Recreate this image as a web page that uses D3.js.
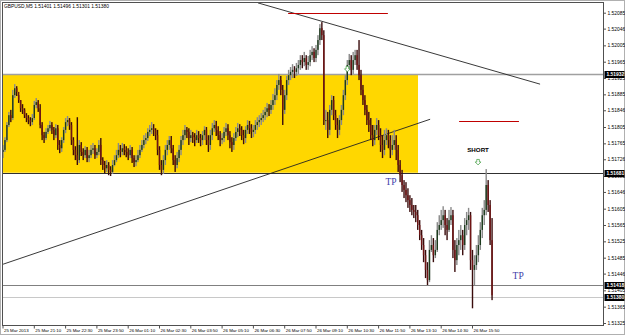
<!DOCTYPE html>
<html><head><meta charset="utf-8">
<script src="https://cdn.jsdelivr.net/npm/d3@7"></script>
<style>body{margin:0;background:#fff}svg{display:block}</style>
</head><body><svg id="c" width="625" height="335"></svg>
<script>
const title = "GBPUSD,M5  1.51401 1.51496 1.51301 1.51380";
const timeLabels = ["25 Mar 2013","25 Mar 21:10","25 Mar 22:30","25 Mar 23:50","26 Mar 01:10","26 Mar 02:30","26 Mar 03:50","26 Mar 05:10","26 Mar 06:30","26 Mar 07:50","26 Mar 09:10","26 Mar 10:30","26 Mar 11:50","26 Mar 13:10","26 Mar 14:30","26 Mar 15:50"];
const timeLabelBars = [0,16,32,48,64,80,96,112,128,144,160,176,192,208,224,240];
const priceTicks = [1.52085,1.52046,1.52005,1.51965,1.51925,1.51885,1.51846,1.51805,1.51765,1.51726,1.51685,1.51646,1.51605,1.51565,1.51525,1.51485,1.51446,1.51405,1.51365,1.51325];
const close = [1.51749,1.51773,1.51810,1.51834,1.51827,1.51883,1.51900,1.51891,1.51871,1.51851,
1.51847,1.51834,1.51827,1.51822,1.51817,1.51827,1.51859,1.51866,1.51851,1.51810,
1.51785,1.51778,1.51793,1.51802,1.51810,1.51798,1.51785,1.51802,1.51761,1.51753,
1.51773,1.51798,1.51817,1.51822,1.51810,1.51773,1.51749,1.51736,1.51724,1.51761,
1.51744,1.51736,1.51749,1.51729,1.51736,1.51749,1.51753,1.51736,1.51744,1.51761,
1.51724,1.51712,1.51704,1.51712,1.51700,1.51695,1.51712,1.51724,1.51736,1.51749,
1.51744,1.51753,1.51749,1.51744,1.51736,1.51749,1.51729,1.51719,1.51724,1.51736,
1.51749,1.51761,1.51773,1.51778,1.51793,1.51798,1.51802,1.51798,1.51785,1.51749,
1.51712,1.51700,1.51724,1.51749,1.51761,1.51773,1.51753,1.51724,1.51712,1.51729,
1.51749,1.51773,1.51785,1.51798,1.51793,1.51778,1.51785,1.51780,1.51773,1.51785,
1.51778,1.51773,1.51785,1.51798,1.51773,1.51761,1.51785,1.51802,1.51810,1.51798,
1.51785,1.51773,1.51778,1.51793,1.51802,1.51785,1.51768,1.51761,1.51778,1.51793,
1.51802,1.51798,1.51785,1.51778,1.51798,1.51810,1.51802,1.51793,1.51798,1.51810,
1.51817,1.51822,1.51827,1.51834,1.51842,1.51851,1.51847,1.51859,1.51871,1.51883,
1.51908,1.51920,1.51896,1.51847,1.51883,1.51920,1.51932,1.51940,1.51945,1.51940,
1.51949,1.51957,1.51969,1.51964,1.51974,1.51957,1.51964,1.51981,1.51989,1.51974,
1.51994,1.52018,1.52047,1.52030,1.51822,1.51822,1.51798,1.51847,1.51871,1.51834,
1.51810,1.51798,1.51822,1.51847,1.51883,1.51920,1.51957,1.51969,1.51945,1.51969,
1.51981,1.51957,1.51932,1.51896,1.51871,1.51847,1.51822,1.51810,1.51785,1.51773,
1.51798,1.51810,1.51785,1.51761,1.51749,1.51773,1.51785,1.51773,1.51749,1.51761,
1.51773,1.51749,1.51712,1.51687,1.51663,1.51651,1.51638,1.51626,1.51614,1.51602,
1.51597,1.51589,1.51565,1.51540,1.51516,1.51491,1.51455,1.51430,1.51504,1.51516,
1.51491,1.51504,1.51553,1.51565,1.51577,1.51589,1.51565,1.51553,1.51577,1.51589,
1.51504,1.51479,1.51516,1.51528,1.51540,1.51516,1.51565,1.51577,1.51589,1.51479,
1.51455,1.51467,1.51491,1.51516,1.51553,1.51589,1.51602,1.51663,1.51614,1.51528,1.51393];
const high = [1.51761,1.51780,1.51817,1.51842,1.51847,1.51896,1.51910,1.51905,1.51883,1.51871,
1.51861,1.51851,1.51839,1.51834,1.51829,1.51837,1.51869,1.51876,1.51871,1.51861,
1.51817,1.51793,1.51802,1.51810,1.51820,1.51817,1.51805,1.51812,1.51810,1.51773,
1.51780,1.51805,1.51827,1.51832,1.51827,1.51817,1.51780,1.51758,1.51829,1.51773,
1.51768,1.51753,1.51758,1.51756,1.51749,1.51761,1.51766,1.51761,1.51753,1.51773,
1.51778,1.51731,1.51722,1.51724,1.51719,1.51709,1.51724,1.51736,1.51749,1.51766,
1.51761,1.51766,1.51763,1.51758,1.51753,1.51761,1.51756,1.51736,1.51736,1.51749,
1.51761,1.51773,1.51785,1.51790,1.51802,1.51810,1.51817,1.51812,1.51802,1.51798,
1.51758,1.51724,1.51736,1.51761,1.51773,1.51783,1.51783,1.51761,1.51736,1.51744,
1.51761,1.51783,1.51798,1.51810,1.51805,1.51802,1.51798,1.51793,1.51790,1.51798,
1.51795,1.51788,1.51795,1.51807,1.51805,1.51785,1.51798,1.51815,1.51822,1.51820,
1.51807,1.51795,1.51790,1.51805,1.51815,1.51812,1.51795,1.51780,1.51790,1.51805,
1.51815,1.51812,1.51807,1.51798,1.51807,1.51822,1.51820,1.51812,1.51810,1.51822,
1.51829,1.51834,1.51839,1.51847,1.51854,1.51864,1.51861,1.51871,1.51886,1.51900,
1.51920,1.51935,1.51930,1.51908,1.51896,1.51930,1.51945,1.51952,1.51959,1.51954,
1.51962,1.51969,1.51981,1.51981,1.51989,1.51981,1.51979,1.51994,1.52003,1.51998,
1.52006,1.52030,1.52057,1.52062,1.52042,1.51847,1.51842,1.51859,1.51883,1.51881,
1.51847,1.51827,1.51834,1.51859,1.51896,1.51932,1.51969,1.51984,1.51981,1.51989,
1.51994,1.51994,1.52018,1.51945,1.51908,1.51883,1.51859,1.51842,1.51827,1.51810,
1.51810,1.51827,1.51822,1.51802,1.51785,1.51798,1.51802,1.51798,1.51785,1.51785,
1.51798,1.51785,1.51761,1.51724,1.51700,1.51675,1.51670,1.51655,1.51638,1.51631,
1.51614,1.51614,1.51602,1.51577,1.51553,1.51533,1.51504,1.51474,1.51528,1.51540,
1.51533,1.51528,1.51572,1.51589,1.51602,1.51611,1.51602,1.51582,1.51602,1.51609,
1.51602,1.51528,1.51533,1.51553,1.51565,1.51553,1.51582,1.51597,1.51607,1.51597,
1.51504,1.51491,1.51516,1.51540,1.51572,1.51607,1.51626,1.51702,1.51675,1.51626,1.51582];
const low = [1.51729,1.51744,1.51768,1.51805,1.51817,1.51822,1.51876,1.51881,1.51864,1.51842,
1.51837,1.51827,1.51817,1.51812,1.51807,1.51810,1.51822,1.51851,1.51842,1.51802,
1.51773,1.51766,1.51773,1.51788,1.51795,1.51788,1.51773,1.51778,1.51749,1.51741,
1.51744,1.51766,1.51790,1.51807,1.51798,1.51761,1.51736,1.51724,1.51712,1.51717,
1.51734,1.51724,1.51729,1.51719,1.51719,1.51729,1.51739,1.51727,1.51729,1.51736,
1.51712,1.51700,1.51692,1.51695,1.51687,1.51685,1.51690,1.51709,1.51719,1.51729,
1.51731,1.51736,1.51736,1.51731,1.51724,1.51729,1.51717,1.51707,1.51709,1.51719,
1.51729,1.51744,1.51753,1.51763,1.51771,1.51783,1.51788,1.51783,1.51773,1.51736,
1.51700,1.51687,1.51690,1.51712,1.51736,1.51749,1.51741,1.51712,1.51695,1.51704,
1.51719,1.51736,1.51761,1.51773,1.51778,1.51761,1.51768,1.51766,1.51758,1.51766,
1.51766,1.51758,1.51761,1.51773,1.51761,1.51744,1.51749,1.51773,1.51793,1.51783,
1.51773,1.51758,1.51763,1.51768,1.51783,1.51773,1.51753,1.51744,1.51749,1.51771,
1.51780,1.51783,1.51773,1.51763,1.51766,1.51788,1.51788,1.51778,1.51780,1.51788,
1.51798,1.51805,1.51810,1.51817,1.51822,1.51829,1.51832,1.51837,1.51847,1.51859,
1.51871,1.51896,1.51883,1.51810,1.51837,1.51871,1.51908,1.51920,1.51925,1.51925,
1.51930,1.51935,1.51945,1.51949,1.51954,1.51945,1.51945,1.51954,1.51969,1.51964,
1.51964,1.51981,1.52006,1.52018,1.51810,1.51798,1.51778,1.51785,1.51834,1.51822,
1.51798,1.51778,1.51785,1.51810,1.51834,1.51871,1.51908,1.51945,1.51932,1.51935,
1.51957,1.51945,1.51920,1.51883,1.51859,1.51834,1.51810,1.51793,1.51773,1.51758,
1.51761,1.51785,1.51773,1.51744,1.51729,1.51736,1.51761,1.51753,1.51729,1.51736,
1.51749,1.51724,1.51695,1.51670,1.51646,1.51631,1.51621,1.51607,1.51597,1.51589,
1.51582,1.51572,1.51553,1.51528,1.51504,1.51474,1.51435,1.51418,1.51425,1.51499,
1.51474,1.51484,1.51499,1.51540,1.51553,1.51558,1.51540,1.51528,1.51548,1.51565,
1.51484,1.51450,1.51467,1.51491,1.51504,1.51491,1.51504,1.51540,1.51553,1.51455,
1.51361,1.51418,1.51455,1.51474,1.51504,1.51533,1.51565,1.51589,1.51597,1.51516,1.51381];
const firstOpen = 1.51744;
const open = close.map((c, i) => i === 0 ? firstOpen : close[i - 1]);

const zone = {from: 0, to: 212.4, top: 1.51934, bottom: 1.51693};
const levels = [
  {price: 1.51934, label: "1.51932", color: "#a0a0a0", w: 1.6},
  {price: 1.51693, label: "1.51681", color: "#303030", w: 1},
  {price: 1.51418, label: "1.51418", color: "#808080", w: 1},
  {price: 1.51389, label: "1.51380", color: "#c8c8c8", w: 1}
];
const trendLines = [
  {b0: 130.6, p0: 1.52109, b1: 274.8, p1: 1.51910, color: "#222"},
  {b0: 0.3, p0: 1.51469, b1: 218.6, p1: 1.51824, color: "#222"}
];
const redLines = [
  {b0: 146, b1: 197, p: 1.52084},
  {b0: 233.4, b1: 264, p: 1.51820}
];
const arrows = [{bar: 176.3, p: 1.51945}, {bar: 243.1, p: 1.51717}];
const notes = [
  {bar: 243.1, p: 1.51743, text: "SHORT", kind: "short"},
  {bar: 198.6, p: 1.51662, text: "TP", kind: "tp"},
  {bar: 263.6, p: 1.51433, text: "TP", kind: "tp"}
];

const svg = d3.select("#c");
const P = {l: 2.5, r: 603.5, t: 2.5, b: 325.5};
const x = d3.scaleLinear().domain([0, 240]).range([2.5, 472]);
const y = d3.scaleLinear().domain([1.51325, 1.52085]).range([323, 12.7]);
const font = "'Liberation Sans', Arial, sans-serif";

svg.append("rect").attr("width", 625).attr("height", 335).attr("fill", "#fff");
svg.append("rect").attr("x", 0.5).attr("y", 0.5).attr("width", 624).attr("height", 334)
  .attr("fill", "none").attr("stroke", "#b0b0b0");

svg.append("clipPath").attr("id", "pc").append("rect")
  .attr("x", P.l).attr("y", P.t).attr("width", P.r - P.l).attr("height", P.b - P.t);
const g = svg.append("g").attr("clip-path", "url(#pc)");

g.append("rect").attr("x", x(zone.from) - 2).attr("y", y(zone.top))
  .attr("width", x(zone.to) - x(zone.from) + 2).attr("height", y(zone.bottom) - y(zone.top))
  .attr("fill", "#FFD700");

g.selectAll("line.lvl").data(levels).join("line").attr("class", "lvl")
  .attr("x1", P.l).attr("x2", P.r)
  .attr("y1", d => Math.round(y(d.price)) + 0.5).attr("y2", d => Math.round(y(d.price)) + 0.5)
  .attr("stroke", d => d.color).attr("stroke-width", d => d.w);

g.selectAll("line.tl").data(trendLines).join("line").attr("class", "tl")
  .attr("x1", d => x(d.b0)).attr("y1", d => y(d.p0)).attr("x2", d => x(d.b1)).attr("y2", d => y(d.p1))
  .attr("stroke", d => d.color).attr("stroke-width", 0.9);

g.selectAll("line.rl").data(redLines).join("line").attr("class", "rl")
  .attr("x1", d => x(d.b0)).attr("x2", d => x(d.b1))
  .attr("y1", d => Math.round(y(d.p)) + 0.5).attr("y2", d => Math.round(y(d.p)) + 0.5)
  .attr("stroke", "#c00000").attr("stroke-width", 1.2);

const bars = d3.range(close.length).map(i => ({i, o: open[i], h: high[i], l: low[i], c: close[i]}));
const cg = g.append("g");
const cw = 1.4;
bars.forEach(d => {
  const bx = x(d.i) - cw / 2 + 0.5;
  const up = d.c >= d.o;
  cg.append("rect").attr("x", bx).attr("width", cw)
    .attr("y", y(d.h)).attr("height", Math.max(1, y(d.l) - y(d.h)))
    .attr("fill", up ? "#8a8a8a" : "#3a0c0c");
  cg.append("rect").attr("x", bx).attr("width", cw)
    .attr("y", y(Math.max(d.o, d.c))).attr("height", Math.max(1, Math.abs(y(d.o) - y(d.c))))
    .attr("fill", up ? "#1c3a1c" : "#701414");
});

arrows.forEach(a => {
  const ax = x(a.bar), ay = y(a.p);
  g.append("path")
    .attr("d", `M${ax-1.3},${ay-3.5} h2.6 v2.5 h1.6 l-2.9,3 l-2.9,-3 h1.6 z`)
    .attr("fill", "#fff").attr("stroke", "#3a9a3a").attr("stroke-width", 0.7);
});

notes.forEach(n => {
  const t = g.append("text").attr("x", x(n.bar)).attr("y", y(n.p)).attr("text-anchor", "middle").text(n.text);
  if (n.kind === "short") t.attr("font-family", font).attr("font-size", 6.2).attr("font-weight", "bold").attr("fill", "#000");
  else t.attr("font-family", "'Liberation Serif', 'Times New Roman', serif").attr("font-size", 9.5).attr("fill", "#3c3ca8");
});

svg.append("rect").attr("x", P.l).attr("y", P.t).attr("width", P.r - P.l).attr("height", P.b - P.t)
  .attr("fill", "none").attr("stroke", "#505050");

const ya = svg.append("g").attr("transform", `translate(${P.r},0)`)
  .call(d3.axisRight(y).tickValues(priceTicks).tickSize(2.5).tickFormat(d3.format(".5f")));
ya.select(".domain").remove();
ya.selectAll("line").attr("stroke", "#505050");
ya.selectAll("text").attr("font-family", font).attr("font-size", 4.9).attr("fill", "#000").attr("x", 4);

const xa = svg.append("g").attr("transform", `translate(0,${P.b})`)
  .call(d3.axisBottom(x).tickValues(timeLabelBars).tickSize(3).tickFormat((d, i) => timeLabels[i]));
xa.select(".domain").remove();
xa.selectAll("line").attr("stroke", "#505050");
xa.selectAll("text").attr("font-family", font).attr("font-size", 4.4).attr("fill", "#000")
  .attr("text-anchor", "start").attr("dx", 1).attr("y", 3.2);

const lg = svg.append("g");
levels.forEach(l => {
  const ly = Math.round(y(l.price)) + 0.5;
  lg.append("rect").attr("x", P.r + 1).attr("y", ly - 3.5).attr("width", 20).attr("height", 7).attr("fill", "#000");
  lg.append("text").attr("x", P.r + 3).attr("y", ly + 1.8).attr("font-family", font).attr("font-size", 4.9)
    .attr("font-weight", "bold").attr("fill", "#fff").text(l.label);
});

svg.append("text").attr("x", 4).attr("y", 8).attr("font-family", font).attr("font-size", 4.9)
  .attr("fill", "#000").text(title);
</script></body></html>
